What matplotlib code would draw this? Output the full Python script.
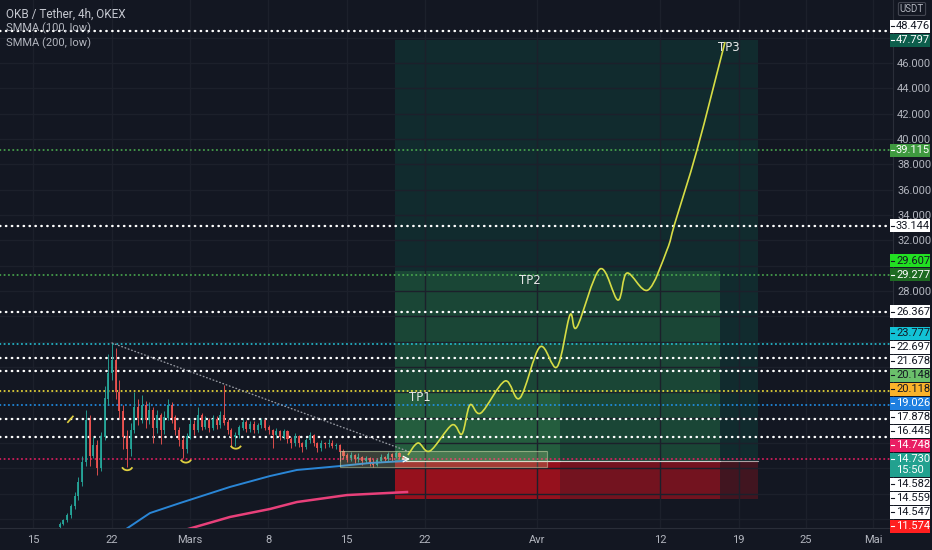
import matplotlib
matplotlib.use('Agg')
import matplotlib.pyplot as plt
import numpy as np
import pandas as pd
from matplotlib.patches import Rectangle, Arc, PathPatch
from matplotlib.path import Path
from matplotlib.lines import Line2D

# ---------------- data ----------------
BASE = pd.Timestamp('2021-03-01')
candle_start = pd.Timestamp('2021-02-17 09:00')
candle_hours = 8

opens = [9.4, 9.6, 9.9, 10.3, 11.0, 11.8, 12.9, 14.5, 17.8, 15.0,
         15.8, 14.0, 16.5, 19.5, 21.5, 22.5, 20.0, 18.5, 16.5, 15.5,
         17.0, 18.8, 18.0, 19.0, 17.8, 18.6, 17.2, 18.2, 17.0, 18.0,
         19.0, 18.0, 17.0, 16.2, 15.5, 16.5, 17.5, 17.0, 18.2, 17.3,
         17.8, 17.2, 17.9, 17.4, 18.2, 17.6, 17.0, 16.5, 16.6, 17.2,
         17.6, 17.1, 17.5, 17.0, 17.4, 17.8, 17.2, 17.0, 16.6, 16.9,
         16.5, 16.9, 16.3, 16.0, 16.5, 16.0, 15.7, 16.2, 16.6, 16.0,
         15.6, 16.0, 15.9, 16.0, 15.8, 15.8, 15.3, 15.0, 14.8, 15.0,
         14.7, 14.9, 14.6, 14.8, 14.5, 14.3, 14.6, 14.9, 14.7, 15.1,
         14.9, 15.2, 14.9]
closes = [9.6, 9.9, 10.3, 11.0, 11.8, 12.9, 14.5, 17.8, 15.0, 15.8,
          14.0, 16.5, 19.5, 21.5, 22.5, 20.0, 18.5, 16.5, 15.5, 17.0,
          18.8, 18.0, 19.0, 17.8, 18.6, 17.2, 18.2, 17.0, 18.0, 19.0,
          18.0, 17.0, 16.2, 15.5, 16.5, 17.5, 17.0, 18.2, 17.3, 17.8,
          17.2, 17.9, 17.4, 18.2, 17.6, 17.0, 16.5, 16.6, 17.2, 17.6,
          17.1, 17.5, 17.0, 17.4, 17.8, 17.2, 17.0, 16.6, 16.9, 16.5,
          16.9, 16.3, 16.0, 16.5, 16.0, 15.7, 16.2, 16.6, 16.0, 15.6,
          16.0, 15.9, 16.0, 15.8, 15.8, 15.3, 15.0, 14.8, 15.0, 14.7,
          14.9, 14.6, 14.8, 14.5, 14.3, 14.6, 14.9, 14.7, 15.1, 14.9,
          15.2, 14.9, 14.73]
highs = [9.8, 10.0, 10.5, 11.2, 12.1, 13.3, 15.0, 18.6, 18.2, 16.5,
         16.2, 16.9, 20.5, 23.0, 23.9, 23.5, 21.0, 19.0, 17.0, 17.6,
         20.0, 19.5, 19.8, 19.3, 19.2, 18.8, 18.6, 18.4, 18.5, 19.5,
         19.2, 18.2, 17.3, 16.5, 16.8, 17.9, 17.8, 18.8, 18.4, 18.1,
         18.0, 18.2, 18.1, 18.5, 20.6, 17.9, 17.2, 16.9, 17.4, 17.9,
         17.8, 17.7, 17.7, 17.6, 18.0, 17.9, 17.4, 17.1, 17.2, 17.0,
         17.1, 17.0, 16.5, 16.8, 16.6, 16.1, 16.4, 16.9, 16.7, 16.1,
         16.2, 16.1, 16.3, 16.2, 16.0, 15.9, 15.5, 15.2, 15.3, 15.1,
         15.2, 15.0, 15.0, 14.9, 14.7, 14.8, 15.1, 15.0, 15.3, 15.2,
         15.4, 15.3, 15.0]
lows = [9.3, 9.5, 9.8, 10.1, 10.8, 11.5, 12.6, 14.2, 14.2, 14.8,
        13.5, 13.8, 16.2, 19.0, 21.0, 19.5, 18.0, 15.5, 14.1, 15.0,
        16.8, 17.4, 17.6, 17.2, 17.5, 16.0, 16.8, 15.9, 16.7, 17.8,
        17.6, 16.6, 15.8, 14.8, 15.2, 16.3, 16.6, 16.9, 17.0, 17.1,
        16.9, 17.0, 17.1, 17.2, 17.4, 16.7, 15.7, 15.8, 16.4, 17.0,
        16.9, 16.9, 16.8, 16.8, 17.2, 17.0, 16.7, 15.6, 16.4, 16.2,
        16.3, 16.0, 15.6, 15.8, 15.7, 15.3, 15.5, 16.0, 15.8, 15.3,
        15.4, 15.6, 15.7, 15.6, 15.5, 14.6, 14.7, 14.5, 14.6, 14.4,
        14.5, 14.3, 14.4, 14.2, 14.1, 14.2, 14.5, 14.5, 14.6, 14.6,
        14.8, 14.7, 14.6]

# SMMA lines (days since Mar 1, value)
smma100_days = [-5.8, -3.57, -0.89, 3.57, 7.14, 9.55, 13.39, 16.07, 19.2]
smma100_vals = [9.15, 10.47, 11.26, 12.53, 13.39, 13.87, 14.18, 14.42, 14.58]
smma200_days = [-0.2, 3.57, 7.14, 9.55, 14.02, 19.38]
smma200_vals = [9.2, 10.16, 10.79, 11.34, 11.89, 12.13]

# horizontal levels
level_vals = [48.476, 39.115, 33.144, 29.277, 26.367, 23.777, 22.697, 21.678,
              20.118, 19.026, 17.878, 16.445, 14.748]
level_cols = ['#ffffff', '#4caf50', '#ffffff', '#4caf50', '#ffffff', '#26c6da',
              '#ffffff', '#ffffff', '#ffeb3b', '#2196f3', '#ffffff', '#ffffff',
              '#e91e63']

# long position tools
tool_start_day = 18.3
tool_end_days = [33.04, 47.32, 50.71]
tool_targets = [20.148, 29.607, 47.797]
tool_entries = [14.582, 14.559, 14.547]
tool_stop = 11.574
tool_profit_cols = ['#5cc060', '#4caf50', '#0a8060']
tool_profit_alpha = [0.22, 0.22, 0.2]
tool_stop_alpha = [0.3, 0.3, 0.22]
tp_names = ['TP1', 'TP2', 'TP3']
tp_text_days = [20.54, 30.36, 48.13]
tp_text_vals = [19.55, 28.86, 47.25]

# projected path
path_days = [19.46, 20.36, 21.43, 23.39, 24.29, 25.0, 25.98, 28.13, 29.46, 31.25,
             32.77, 33.93, 34.55, 36.61, 38.21, 39.02, 40.89, 42.59, 43.3, 45.27, 47.77]
path_vals = [15.05, 16.0, 15.37, 17.42, 16.71, 19.0, 18.37, 20.89, 19.55, 23.58,
             22.0, 26.1, 25.15, 29.73, 27.28, 29.41, 28.07, 31.23, 33.36, 39.12, 47.64]

# trend line, consolidation box, marks
trend_days = [-6.96, 19.64]
trend_vals = [23.89, 15.29]
box_days = [13.4, 31.9]
box_vals = [14.1, 15.37]
slash_days = [-10.9, -10.45]
slash_vals = [17.64, 18.1]
arc_days = [-5.6, -0.36, 4.1]
arc_vals = [14.25, 14.85, 15.95]

# price axis labels
label_vals = [48.476, 47.797, 39.115, 33.144, 29.607, 29.277, 26.367, 23.777,
              22.697, 21.678, 20.148, 20.118, 19.026, 17.878, 16.445, 14.748,
              14.730, 14.582, 14.559, 14.547, 11.574]
label_bg = ['#ffffff', '#0d5e4c', '#3f9a3f', '#ffffff', '#22e022', '#1e6b22',
            '#ffffff', '#12c2d6', '#ffffff', '#ffffff', '#6bc06b', '#fbb32a',
            '#1e7fe0', '#ffffff', '#ffffff', '#e91e63', '#22a18f', '#ffffff',
            '#ffffff', '#ffffff', '#ff1f1f']
label_fg = ['#131722', '#ffffff', '#ffffff', '#131722', '#131722', '#ffffff',
            '#131722', '#131722', '#131722', '#131722', '#131722', '#131722',
            '#ffffff', '#131722', '#131722', '#ffffff', '#ffffff', '#131722',
            '#131722', '#131722', '#ffffff']
last_price = 14.730
countdown = '15:50'

tick_dates = ['2021-02-15', '2021-02-22', '2021-03-01', '2021-03-08', '2021-03-15',
              '2021-03-22', '2021-04-01', '2021-04-12', '2021-04-19', '2021-04-25',
              '2021-05-01']
tick_labels = ['15', '22', 'Mars', '8', '15', '22', 'Avr', '12', '19', '25', 'Mai']

legend_lines = ['OKB / Tether, 4h, OKEX', 'SMMA (100, low)', 'SMMA (200, low)']

# ---------------- figure ----------------
BG = '#131722'
GRID = '#1c202b'
TXT = '#b2b5be'
W, H = 932, 550
PR, PB = 893, 528
AXFONT = ['Liberation Sans Narrow', 'Roboto', 'DejaVu Sans']

fig = plt.figure(figsize=(W / 100, H / 100), dpi=100, facecolor=BG)
ax = fig.add_axes([0, (H - PB) / H, PR / W, PB / H])
ax.set_facecolor(BG)
ax.set_xlim(-16.96, 62.77)
ax.set_ylim(9.29, 50.96)

tick_pos = [(pd.Timestamp(d) - BASE) / pd.Timedelta(days=1) for d in tick_dates]
ax.set_xticks(tick_pos)
ax.set_xticklabels(tick_labels, fontfamily=AXFONT)
yt = np.arange(10, 49, 2)
ax.set_yticks(yt)
ax.yaxis.tick_right()
ax.tick_params(axis='x', length=0, pad=5, labelsize=8, colors=TXT)
ax.tick_params(axis='y', length=0, pad=3, labelsize=8, colors=TXT)
ax.grid(True, color=GRID, lw=1, zorder=0)
for s in ['top', 'left']:
    ax.spines[s].set_visible(False)
for s in ['right', 'bottom']:
    ax.spines[s].set_color('#2a2e39')

# candles
cdays = [((candle_start - BASE) / pd.Timedelta(days=1)) + i * candle_hours / 24
         for i in range(len(closes))]
o = np.array(opens); c = np.array(closes)
up = c >= o
cols = np.where(up, '#26a69a', '#ef5350')
ax.vlines(cdays, lows, highs, colors=cols, lw=0.7, zorder=3, alpha=0.9)
ax.bar(cdays, np.abs(c - o) + 0.03, bottom=np.minimum(o, c), width=0.18,
       color=cols, zorder=3, linewidth=0, alpha=0.9)

# SMMA
ax.plot(smma100_days, smma100_vals, color='#2a86d6', lw=1.4, zorder=4)
ax.plot(smma200_days, smma200_vals, color='#e8407a', lw=1.8, zorder=4)

# levels
for v, col in zip(level_vals, level_cols):
    if col == '#ffffff':
        ax.axhline(v, color=col, lw=1.7, ls=(0, (0.2, 2.3)), zorder=2,
                   dash_capstyle='round')
    else:
        ax.axhline(v, color=col, lw=1.2, ls=(0, (0.3, 2.3)), zorder=2,
                   dash_capstyle='round')

# position tools
for end, tgt, ent, pc, pa, sa in zip(tool_end_days, tool_targets, tool_entries,
                                     tool_profit_cols, tool_profit_alpha,
                                     tool_stop_alpha):
    ax.add_patch(Rectangle((tool_start_day, ent), end - tool_start_day, tgt - ent,
                           facecolor=pc, alpha=pa, lw=0, zorder=1.5))
    ax.add_patch(Rectangle((tool_start_day, tool_stop), end - tool_start_day,
                           ent - tool_stop, facecolor='#e8101c', alpha=sa,
                           lw=0, zorder=1.5))
    ax.plot([tool_start_day, end], [ent, ent], color='#dddddd', lw=0.8,
            alpha=0.7, zorder=2.5)
for n, d, v in zip(tp_names, tp_text_days, tp_text_vals):
    ax.text(d, v, n, color='#e8e8e8', fontsize=8.5, ha='center', va='center',
            zorder=6)

# consolidation box
ax.add_patch(Rectangle((box_days[0], box_vals[0]), box_days[1] - box_days[0],
                       box_vals[1] - box_vals[0], facecolor='#dbe59a', alpha=0.2,
                       edgecolor='none', zorder=5))
ax.add_patch(Rectangle((box_days[0], box_vals[0]), box_days[1] - box_days[0],
                       box_vals[1] - box_vals[0], facecolor='none',
                       edgecolor='#c8d8a8', alpha=0.55, lw=0.8, zorder=5))

# trend line
ax.plot(trend_days, trend_vals, color='#9598a1', lw=1.0, ls=(0, (0.5, 2)),
        dash_capstyle='round', zorder=4)

# projected path (Catmull-Rom -> Bezier)
P = np.column_stack([path_days, path_vals])
verts = [P[0]]
codes = [Path.MOVETO]
for i in range(len(P) - 1):
    p0 = P[i - 1] if i > 0 else P[i]
    p1, p2 = P[i], P[i + 1]
    p3 = P[i + 2] if i + 2 < len(P) else P[i + 1]
    c1 = p1 + (p2 - p0) / 6
    c2 = p2 - (p3 - p1) / 6
    verts += [c1, c2, p2]
    codes += [Path.CURVE4] * 3
ax.add_patch(PathPatch(Path(verts, codes), facecolor='none', edgecolor='#d6dc45',
                       lw=1.2, zorder=6))

# small arrow
ax.annotate('', xy=(tool_start_day + 1.6, last_price), xytext=(tool_start_day + 0.4, last_price),
            arrowprops=dict(arrowstyle='->', color='white', lw=0.9), zorder=7)

# yellow marks
ax.plot(slash_days, slash_vals, color='#e0d040', lw=1.2, zorder=5)
for d, v in zip(arc_days, arc_vals):
    ax.add_patch(Arc((d, v), 1.0, 0.8, theta1=200, theta2=340, color='#e0d040',
                     lw=1.3, zorder=5))

# legend text
for i, t in enumerate(legend_lines):
    fig.text(6 / W, 1 - (14 + 14.5 * i) / H, t, color=TXT if i else '#c5c8d0',
             fontsize=8.5 if i == 0 else 8, va='center', ha='left',
             fontfamily=AXFONT)

# USDT box
fig.text(912 / W, 1 - 9 / H, 'USDT', color=TXT, fontsize=7, ha='center',
         va='center', fontfamily=AXFONT,
         bbox=dict(boxstyle='round,pad=0.15', fc=BG, ec='#434651', lw=0.8))

# price labels with overlap resolution
def ypix(v):
    return H - ax.transData.transform((0, v))[1]

half = 7.0
ai = label_vals.index(last_price)
ya = ypix(last_price)
centers = {}
above = sorted([i for i, v in enumerate(label_vals) if v > last_price],
               key=lambda i: label_vals[i])
prev = ya - half
for i in above:
    cc = min(ypix(label_vals[i]), prev - half)
    centers[i] = cc
    prev = cc - half
below = sorted([i for i, v in enumerate(label_vals) if v < last_price],
               key=lambda i: -label_vals[i])
prev = ya + half + 11
for i in below:
    cc = max(ypix(label_vals[i]), prev + half)
    centers[i] = cc
    prev = cc + half

BX0, BX1 = 890, 930
def box(yc0, yc1, col):
    fig.patches.append(Rectangle((BX0 / W, 1 - yc1 / H), (BX1 - BX0) / W,
                                 (yc1 - yc0) / H, transform=fig.transFigure,
                                 facecolor=col, edgecolor='none', zorder=10))

for i, cc in centers.items():
    box(cc - half + 0.5, cc + half - 0.5, label_bg[i])
    fig.lines.append(Line2D([891 / W, 894 / W], [1 - cc / H] * 2,
                            transform=fig.transFigure, color=label_fg[i], lw=0.8, zorder=11))
    fig.text(896 / W, 1 - cc / H, f'{label_vals[i]:.3f}', color=label_fg[i],
             fontsize=8, va='center', ha='left', zorder=12, fontfamily=AXFONT)
box(ya - half + 0.5, ya + half + 11, label_bg[ai])
fig.lines.append(Line2D([891 / W, 894 / W], [1 - ya / H] * 2,
                        transform=fig.transFigure, color='white', lw=0.8, zorder=11))
fig.text(896 / W, 1 - ya / H, f'{last_price:.3f}', color='white', fontsize=8,
         va='center', ha='left', zorder=12, fontfamily=AXFONT)
fig.text(896 / W, 1 - (ya + 11) / H, countdown, color='white', fontsize=8,
         va='center', ha='left', zorder=12, fontfamily=AXFONT)

# hide y tick labels hidden under price labels
allc = list(centers.values()) + [ya, ya + 11]
ylabels = []
for t in yt:
    ty = ypix(t)
    hidden = any(abs(ty - cc) < 10 for cc in allc)
    ylabels.append('' if hidden else f'{t:.3f}')
ax.set_yticklabels(ylabels, fontfamily=AXFONT)

fig.savefig('out.png', dpi=100, facecolor=BG)
